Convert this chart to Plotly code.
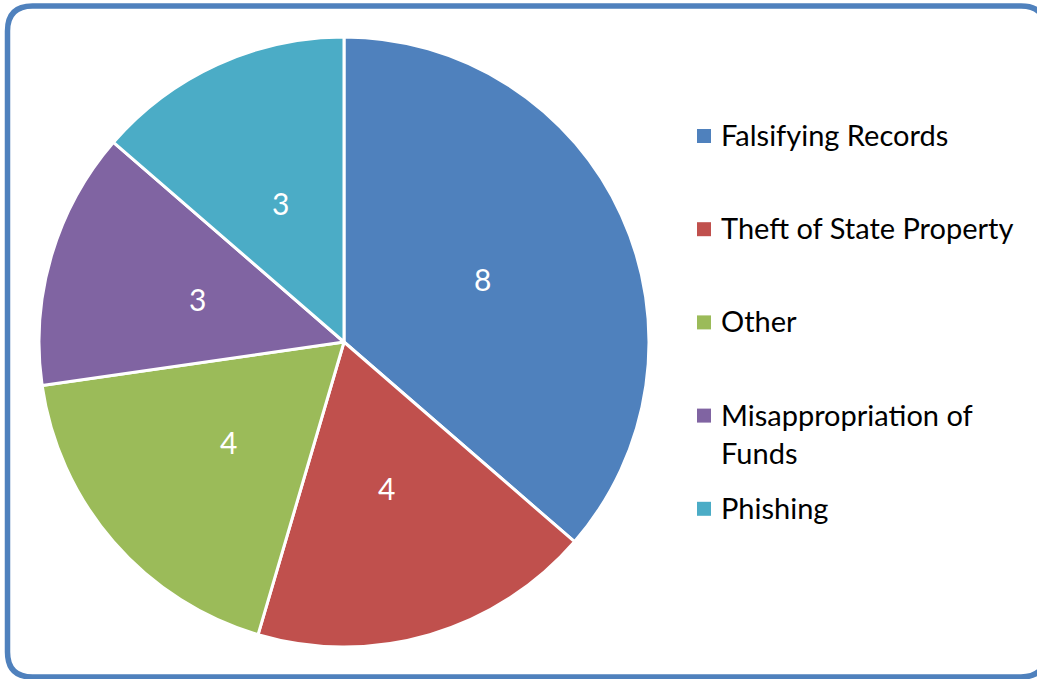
import math
import plotly.graph_objects as go

categories = ["Falsifying Records", "Theft of State Property", "Other",
              "Misappropriation of Funds", "Phishing"]
values = [8, 4, 4, 3, 3]
colors = ["#4F81BD", "#C0504D", "#9BBB59", "#8064A2", "#4BACC6"]
legend_labels = ["Falsifying Records", "Theft of State Property", "Other",
                 "Misappropriation of<br>Funds", "Phishing"]

W, H = 1037, 679
FONT = "Lato"
CX, CY, R = 344, 342, 305  # pie centre / radius in pixels


def px(x):
    return x / W


def py(y):
    return 1 - y / H


fig = go.Figure()
fig.add_trace(go.Pie(
    labels=categories,
    values=values,
    sort=False,
    direction="clockwise",
    rotation=0,
    marker=dict(colors=colors, line=dict(color="white", width=3)),
    textinfo="none",
    domain=dict(x=[px(CX - R), px(CX + R)], y=[py(CY + R), py(CY - R)]),
    showlegend=False,
    hoverinfo="label+value",
))

annotations = []
# data labels at half radius, mid-angle of each slice (clockwise from top)
total = sum(values)
cum = 0
for v in values:
    mid = (cum + v / 2) / total * 2 * math.pi
    cum += v
    lx = CX + 0.5 * R * math.sin(mid)
    ly = CY - 0.5 * R * math.cos(mid)
    annotations.append(dict(
        xref="paper", yref="paper", x=px(lx), y=py(ly),
        xanchor="center", yanchor="middle", showarrow=False,
        text=str(v), font=dict(family=FONT, size=30, color="white")))

# rounded border
x0, y0, x1, y1, r = 7.5, 6, 1046, 677, 25
path = (f"M {px(x0 + r)},{py(y0)} L {px(x1 - r)},{py(y0)} "
        f"Q {px(x1)},{py(y0)} {px(x1)},{py(y0 + r)} "
        f"L {px(x1)},{py(y1 - r)} Q {px(x1)},{py(y1)} {px(x1 - r)},{py(y1)} "
        f"L {px(x0 + r)},{py(y1)} Q {px(x0)},{py(y1)} {px(x0)},{py(y1 - r)} "
        f"L {px(x0)},{py(y0 + r)} Q {px(x0)},{py(y0)} {px(x0 + r)},{py(y0)} Z")
shapes = [dict(type="path", xref="paper", yref="paper", path=path,
               line=dict(color="#4F81BD", width=5.5), layer="below")]

# custom legend
y_start, step = 136, 93.2
for i, (lab, col) in enumerate(zip(legend_labels, colors)):
    yc = y_start + i * step
    shapes.append(dict(type="rect", xref="paper", yref="paper",
                       x0=px(697), x1=px(711), y0=py(yc - 7), y1=py(yc + 7),
                       fillcolor=col, line=dict(width=0)))
    annotations.append(dict(
        xref="paper", yref="paper", x=px(719), y=py(yc - 21),
        xanchor="left", yanchor="top", align="left", showarrow=False,
        text=lab, font=dict(family=FONT, size=29, color="black")))

fig.update_layout(
    width=W, height=H,
    margin=dict(l=0, r=0, t=0, b=0),
    paper_bgcolor="white", plot_bgcolor="white",
    shapes=shapes, annotations=annotations,
)

fig.write_html("out.html",
               config={"displayModeBar": False},
               post_script="document.body.style.margin='0';"
                           "document.body.style.overflow='hidden';")
